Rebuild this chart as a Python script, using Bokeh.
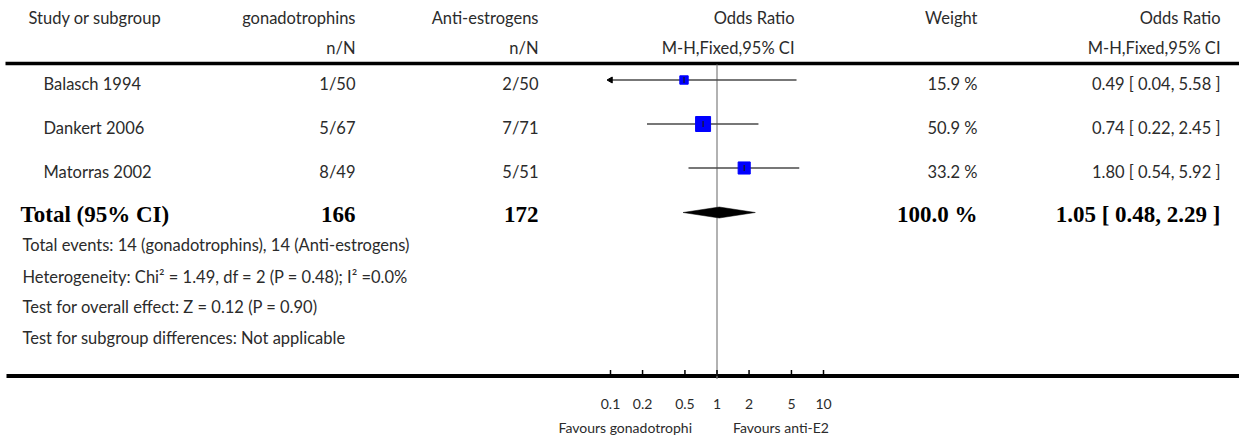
import math

from bokeh.core.properties import value
from bokeh.embed import file_html
from bokeh.models import ColumnDataSource, LogScale, Range1d
from bokeh.plotting import figure
from bokeh.resources import INLINE

# ---- data -----------------------------------------------------------------
studies = ["Balasch 1994", "Dankert 2006", "Matorras 2002"]
gonad_events = ["1/50", "5/67", "8/49"]
anti_events = ["2/50", "7/71", "5/51"]
weights = [15.9, 50.9, 33.2]
odds = [0.49, 0.74, 1.80]
ci_low = [0.04, 0.22, 0.54]
ci_high = [5.58, 2.45, 5.92]

total_gonad = 166
total_anti = 172
total_weight = 100.0
total_or = 1.05
total_low = 0.48
total_high = 2.29

axis_ticks = [0.1, 0.2, 0.5, 1, 2, 5, 10]
axis_labels = ["0.1", "0.2", "0.5", "1", "2", "5", "10"]

header_top = ["Study or subgroup", "gonadotrophins", "Anti-estrogens",
              "Odds Ratio", "Weight", "Odds Ratio"]
header_sub = ["", "n/N", "n/N", "M-H,Fixed,95% CI", "", "M-H,Fixed,95% CI"]
footnotes = [
    "Total events: 14 (gonadotrophins), 14 (Anti-estrogens)",
    "Heterogeneity: Chi\u00b2 = 1.49, df = 2 (P = 0.48); I\u00b2 =0.0%",
    "Test for overall effect: Z = 0.12 (P = 0.90)",
    "Test for subgroup differences: Not applicable",
]
favours_left = "Favours gonadotrophi"
favours_right = "Favours anti-E2"

# ---- layout ---------------------------------------------------------------
W, H = 1239, 444
ONE_PX = 716.5        # screen x of OR = 1
DECADE_PX = 106.5     # screen width of one decade on the OR axis
CLIP_LO, CLIP_HI = 0.1, 10

COL_X = [28, 355, 538, 794, 977, 1220]
COL_ALIGN = ["left", "right", "right", "right", "right", "right"]
NAME_X = 43
ROW_Y = [79.5, 123.5, 167.5]
TOTAL_Y = 212
TEXT_DROP = 3.5        # text line relative to the row centre line
HEAD_Y = [17, 47]
FOOT_Y = [244, 276, 306, 337]
TICK_LABEL_Y = 403
FAVOURS_Y = 427
RULE_TOP = 63
RULE_BOTTOM = 375.5

SANS = value("Lato")
SERIF = value("Liberation Serif")
FS = "16.5px"
FS_SMALL = "14px"
FS_BOLD = "23px"
INK = "#2b2b2b"

p = figure(width=W, height=H, x_range=Range1d(0, W), y_range=Range1d(H, 0),
           toolbar_location=None, output_backend="svg", min_border=0,
           outline_line_color=None, background_fill_color="white")
p.xaxis.visible = False
p.yaxis.visible = False
p.grid.visible = False

or_start = 10 ** ((0 - ONE_PX) / DECADE_PX)
or_end = 10 ** ((W - ONE_PX) / DECADE_PX)
p.extra_x_ranges = {"or": Range1d(or_start, or_end)}
p.extra_x_scales = {"or": LogScale()}


def put_text(xs, ys, texts, align, font=SANS, size=FS, style="normal",
             color=INK, range_name="default"):
    p.text(x=xs, y=ys, text=texts, text_align=align,
           text_baseline="alphabetic", text_font=font, text_font_size=size,
           text_font_style=style, text_color=color, x_range_name=range_name)


# header
for x, align, t1, t2 in zip(COL_X, COL_ALIGN, header_top, header_sub):
    put_text([x], [HEAD_Y[0]], [t1], align)
    if t2:
        put_text([x], [HEAD_Y[1]], [t2], align)

# table rules
p.segment(x0=[5], y0=[RULE_TOP], x1=[W], y1=[RULE_TOP],
          line_color="black", line_width=3.5)
p.segment(x0=[6], y0=[RULE_BOTTOM], x1=[W], y1=[RULE_BOTTOM],
          line_color="black", line_width=4)

# study rows
text_y = [y + TEXT_DROP for y in ROW_Y]
put_text([NAME_X] * 3, text_y, studies, "left")
put_text([COL_X[1]] * 3, text_y, gonad_events, "right")
put_text([COL_X[2]] * 3, text_y, anti_events, "right")
put_text([COL_X[4]] * 3, text_y, [f"{w:.1f} %" for w in weights], "right")
put_text([COL_X[5]] * 3, text_y,
         [f"{o:.2f} [ {lo:.2f}, {hi:.2f} ]" for o, lo, hi in zip(odds, ci_low, ci_high)],
         "right")

# line of no effect
p.segment(x0=[1], y0=[RULE_TOP + 1], x1=[1], y1=[RULE_BOTTOM + 3],
          x_range_name="or", line_color="#7f7f7f", line_width=1.2)

# confidence intervals, clipped to the plotted axis
ci_src = ColumnDataSource(dict(
    x0=[max(lo, CLIP_LO) for lo in ci_low],
    x1=[min(hi, CLIP_HI) for hi in ci_high],
    y=ROW_Y,
))
p.segment(x0="x0", y0="y", x1="x1", y1="y", source=ci_src, x_range_name="or",
          line_color="#4a4a4a", line_width=1.5)

# arrow heads where an interval runs off the axis
arrow_left = [y for lo, y in zip(ci_low, ROW_Y) if lo < CLIP_LO]
if arrow_left:
    p.scatter(x=[CLIP_LO] * len(arrow_left), y=arrow_left, marker="triangle",
              angle=math.pi / 2, size=6, fill_color="black", line_color="black",
              x_range_name="or")
arrow_right = [y for hi, y in zip(ci_high, ROW_Y) if hi > CLIP_HI]
if arrow_right:
    p.scatter(x=[CLIP_HI] * len(arrow_right), y=arrow_right, marker="triangle",
              angle=-math.pi / 2, size=6, fill_color="black", line_color="black",
              x_range_name="or")

# weighted point estimates
pt_src = ColumnDataSource(dict(
    x=odds, y=ROW_Y, size=[2.1 * math.sqrt(w) for w in weights],
))
p.scatter(x="x", y="y", size="size", source=pt_src, marker="square",
          fill_color="#0000ff", line_color="#0000ff", x_range_name="or")
p.scatter(x="x", y="y", source=pt_src, marker="dash", angle=math.pi / 2,
          size=6, line_color="#1a1a1a", line_width=1.2, x_range_name="or")

# pooled estimate diamond
half_h = 5.5
p.patch(x=[total_low, total_or, total_high, total_or],
        y=[TOTAL_Y, TOTAL_Y - half_h, TOTAL_Y, TOTAL_Y + half_h],
        x_range_name="or", fill_color="black", line_color="black", line_width=0.5)

# total row
tb = TOTAL_Y + 1.5
put_text([COL_X[0] - 8], [tb], ["Total (95% CI)"], "left", SERIF, FS_BOLD, "bold", "black")
put_text([COL_X[1]], [tb], [str(total_gonad)], "right", SERIF, FS_BOLD, "bold", "black")
put_text([COL_X[2]], [tb], [str(total_anti)], "right", SERIF, FS_BOLD, "bold", "black")
put_text([COL_X[4]], [tb], [f"{total_weight:.1f} %"], "right", SERIF, FS_BOLD, "bold", "black")
put_text([COL_X[5]], [tb], [f"{total_or:.2f} [ {total_low:.2f}, {total_high:.2f} ]"],
         "right", SERIF, FS_BOLD, "bold", "black")

# footnotes
put_text([COL_X[0] - 6] * len(footnotes), FOOT_Y, footnotes, "left")

# axis ticks and labels
p.segment(x0=axis_ticks, y0=[RULE_BOTTOM - 6] * len(axis_ticks),
          x1=axis_ticks, y1=[RULE_BOTTOM] * len(axis_ticks),
          x_range_name="or", line_color="black", line_width=1.5)
put_text(axis_ticks, [TICK_LABEL_Y] * len(axis_ticks), axis_labels, "center",
         size=FS_SMALL, range_name="or")

put_text([ONE_PX - 25], [FAVOURS_Y], [favours_left], "right", size=FS_SMALL)
put_text([ONE_PX + 16], [FAVOURS_Y], [favours_right], "left", size=FS_SMALL)

open("out.html", "w").write(file_html(p, INLINE))
